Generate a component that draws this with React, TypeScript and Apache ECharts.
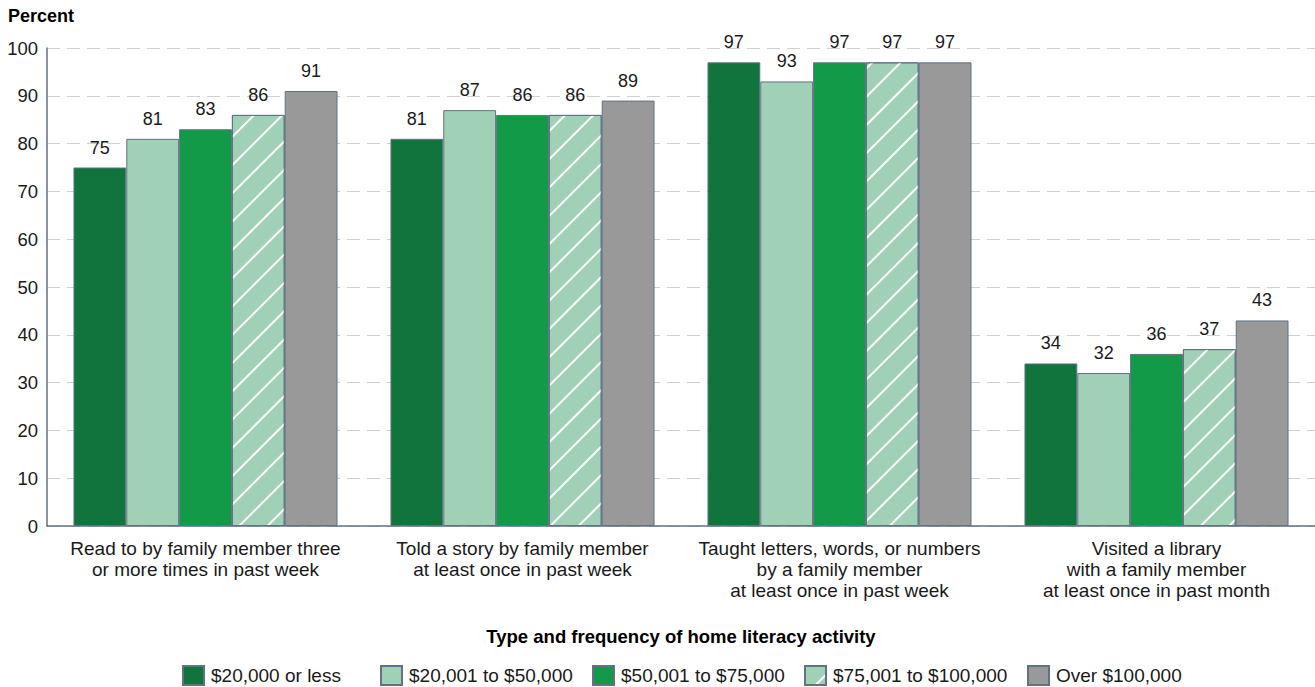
import React, { useEffect, useRef } from "react";
import * as echarts from "echarts";

const categories = [
  "Read to by family member three\nor more times in past week",
  "Told a story by family member\nat least once in past week",
  "Taught letters, words, or numbers\nby a family member\nat least once in past week",
  "Visited a library\nwith a family member\nat least once in past month",
];

const seriesNames = [
  "$20,000 or less",
  "$20,001 to $50,000",
  "$50,001 to $75,000",
  "$75,001 to $100,000",
  "Over $100,000",
];

const income20kOrLess = [75, 81, 97, 34];
const income20kTo50k = [81, 87, 93, 32];
const income50kTo75k = [83, 86, 97, 36];
const income75kTo100k = [86, 86, 97, 37];
const incomeOver100k = [91, 89, 97, 43];

const seriesValues = [
  income20kOrLess,
  income20kTo50k,
  income50kTo75k,
  income75kTo100k,
  incomeOver100k,
];

const yTicks = [0, 10, 20, 30, 40, 50, 60, 70, 80, 90, 100];

// left edge of each legend entry
const legendLefts = [182, 380, 592, 804, 1027];

const colors = ["#10743c", "#a0d1b6", "#139a48", "#a0d1b6", "#999999"];
const borderColor = "#5f7382";
const FONT = "'Liberation Sans', Arial, Helvetica, sans-serif";

export default function App() {
  const ref = useRef<HTMLDivElement>(null);

  useEffect(() => {
    if (!ref.current) return;
    const chart = echarts.init(ref.current, undefined, { renderer: "svg" });

    const series = seriesValues.map((vals, i) => ({
      name: seriesNames[i],
      type: "bar" as const,
      data: vals,
      barGap: "0%",
      barCategoryGap: "16.7%",
      itemStyle: {
        color: colors[i],
        borderColor,
        borderWidth: 1,
        ...(i === 3
          ? {
              decal: {
                symbol: "rect",
                symbolSize: 1,
                color: "#ffffff",
                dashArrayX: [1, 0],
                dashArrayY: [2, 18],
                rotation: -Math.PI / 4,
              },
            }
          : {}),
      },
      label: {
        show: true,
        position: "top" as const,
        distance: 11,
        color: "#1a1a1a",
        fontSize: 18,
        fontFamily: FONT,
      },
    }));

    const legends = seriesNames.map((name, i) => ({
      data: [name],
      left: legendLefts[i],
      top: 665,
      padding: 0,
      itemWidth: 21,
      itemHeight: 19,
      icon: "rect",
      textStyle: {
        fontSize: 19,
        color: "#1a1a1a",
        fontFamily: FONT,
        padding: [0, 0, 0, 2],
      },
    }));

    chart.setOption({
      animation: false,
      backgroundColor: "#ffffff",
      textStyle: { fontFamily: FONT },
      grid: { left: 47, right: 0, top: 48, bottom: 161, containLabel: false },
      legend: legends,
      xAxis: {
        type: "category",
        data: categories,
        axisLine: { lineStyle: { color: borderColor, width: 1.5 } },
        axisTick: { show: false },
        axisLabel: {
          fontSize: 19,
          color: "#1a1a1a",
          lineHeight: 21,
          margin: 12,
          interval: 0,
          fontFamily: FONT,
        },
      },
      yAxis: {
        type: "value",
        min: yTicks[0],
        max: yTicks[yTicks.length - 1],
        interval: 10,
        axisLine: { show: true, lineStyle: { color: borderColor, width: 1.5 } },
        axisTick: { show: false },
        axisLabel: { fontSize: 18.5, color: "#1a1a1a", margin: 9, fontFamily: FONT },
        splitLine: { lineStyle: { color: "#d0d0d0", type: [13, 7], width: 1 } },
      },
      graphic: [
        {
          type: "text",
          left: 8,
          top: 7,
          style: {
            text: "Percent",
            font: `bold 18px ${FONT}`,
            fill: "#000000",
          },
        },
        {
          type: "text",
          x: 681,
          y: 636,
          style: {
            text: "Type and frequency of home literacy activity",
            font: `bold 18.5px ${FONT}`,
            fill: "#000000",
            textAlign: "center",
            textVerticalAlign: "middle",
          },
        },
      ],
      series,
    });

    return () => chart.dispose();
  }, []);

  return (
    <div
      ref={ref}
      style={{ position: "fixed", left: 0, top: 0, width: 1315, height: 687 }}
    />
  );
}
